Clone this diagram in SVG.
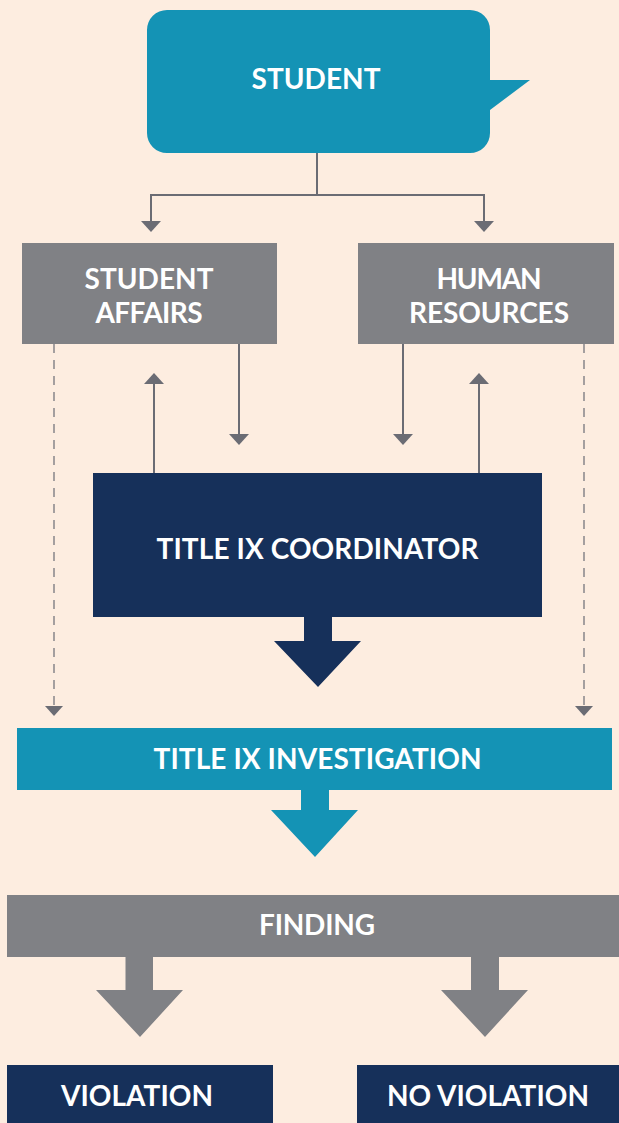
<svg xmlns="http://www.w3.org/2000/svg" width="619" height="1123" viewBox="0 0 619 1123">
<defs>
<style>
.t{font-family:Lato,"Open Sans","Liberation Sans",sans-serif;font-weight:bold;font-size:28px;fill:#ffffff;text-anchor:middle}
.conn{stroke:#6b6c74;stroke-width:2;fill:none}
.dash{stroke:#6b6c74;stroke-width:1.2;fill:none;stroke-dasharray:9 7}
.ah{fill:#6b6c74}
.teal{fill:#1493b5}
.navy{fill:#16305a}
.gray{fill:#808185}
</style>
</defs>
<rect x="0" y="0" width="619" height="1123" fill="#fdede0"/>

<g id="connectors">
  <polyline class="conn" points="317,153 317,195 151,195 151,222"/>
  <polyline class="conn" points="317,195 484,195 484,222"/>
  <polygon class="ah" points="141,221 161,221 151,232"/>
  <polygon class="ah" points="474,221 494,221 484,232"/>
  <!-- Student affairs / coordinator -->
  <line class="conn" x1="154" y1="473" x2="154" y2="382"/>
  <polygon class="ah" points="144,384 164,384 154,373"/>
  <line class="conn" x1="239" y1="344" x2="239" y2="436"/>
  <polygon class="ah" points="229,434 249,434 239,445"/>
  <!-- Human resources / coordinator -->
  <line class="conn" x1="403" y1="344" x2="403" y2="436"/>
  <polygon class="ah" points="393,434 413,434 403,445"/>
  <line class="conn" x1="479" y1="473" x2="479" y2="382"/>
  <polygon class="ah" points="469,384 489,384 479,373"/>
  <!-- dashed -->
  <line class="dash" x1="54" y1="344" x2="54" y2="707"/>
  <polygon class="ah" points="45,706 63,706 54,716"/>
  <line class="dash" x1="584" y1="344" x2="584" y2="707"/>
  <polygon class="ah" points="575,706 593,706 584,716"/>
  <!-- block arrows -->
  <polygon class="navy" points="304,616 332,616 332,641 361,641 318,687 274,641 304,641"/>
  <polygon class="teal" points="301,789 329,789 329,810 358,810 315,857 271,810 301,810"/>
  <polygon class="gray" points="125.5,956 153,956 153,990 183,990 140,1037 96,990 125.5,990"/>
  <polygon class="gray" points="471,956 499,956 499,990 528,990 485,1037 441,990 471,990"/>
</g>

<g id="student">
  <path class="teal" d="M167,10 H470 A20,20 0 0 1 490,30 V80 H530 L490,110 V133 A20,20 0 0 1 470,153 H167 A20,20 0 0 1 147,133 V30 A20,20 0 0 1 167,10 Z"/>
  <text class="t" x="316" y="89" textLength="129">STUDENT</text>
</g>

<g id="student-affairs">
  <rect class="gray" x="22" y="243" width="255" height="101"/>
  <text class="t" x="149" y="289" textLength="129">STUDENT</text>
  <text class="t" x="149" y="323" textLength="107">AFFAIRS</text>
</g>

<g id="human-resources">
  <rect class="gray" x="358" y="243" width="256" height="101"/>
  <text class="t" x="489" y="289" textLength="105">HUMAN</text>
  <text class="t" x="489" y="323" textLength="160">RESOURCES</text>
</g>

<g id="coordinator">
  <rect class="navy" x="93" y="473" width="449" height="144"/>
  <text class="t" x="317.5" y="559" textLength="322">TITLE IX COORDINATOR</text>
</g>

<g id="investigation">
  <rect class="teal" x="17" y="728" width="595" height="62"/>
  <text class="t" x="317.5" y="769" textLength="328">TITLE IX INVESTIGATION</text>
</g>

<g id="finding">
  <rect class="gray" x="7" y="895" width="612" height="62"/>
  <text class="t" x="317" y="935" textLength="116">FINDING</text>
</g>

<g id="violation">
  <rect class="navy" x="7" y="1065" width="266" height="58"/>
  <text class="t" x="137" y="1106" textLength="152">VIOLATION</text>
</g>

<g id="no-violation">
  <rect class="navy" x="357" y="1065" width="262" height="58"/>
  <text class="t" x="488" y="1106" textLength="202">NO VIOLATION</text>
</g>
</svg>
